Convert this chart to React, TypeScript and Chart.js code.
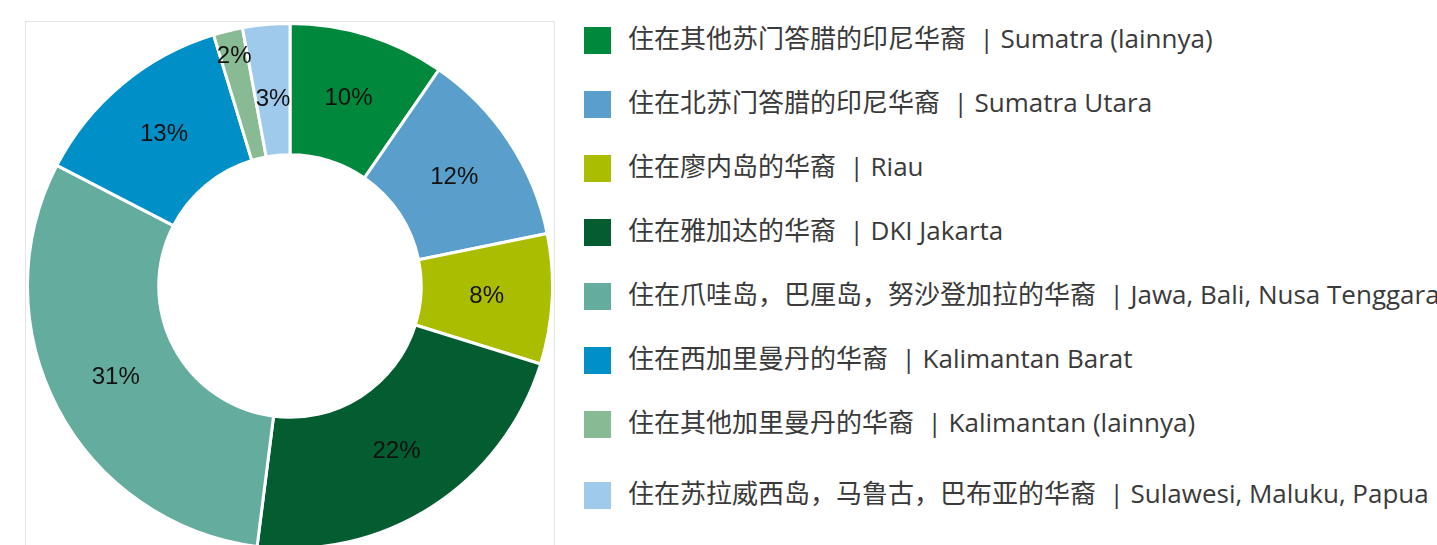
import React, { useEffect, useRef } from "react";
import { Chart, registerables } from "chart.js";

Chart.register(...registerables);

const categories: string[] = [
  "住在其他苏门答腊的印尼华裔  | Sumatra (lainnya)",
  "住在北苏门答腊的印尼华裔  | Sumatra Utara",
  "住在廖内岛的华裔  | Riau",
  "住在雅加达的华裔  | DKI Jakarta",
  "住在爪哇岛，巴厘岛，努沙登加拉的华裔  | Jawa, Bali, Nusa Tenggara",
  "住在西加里曼丹的华裔  | Kalimantan Barat",
  "住在其他加里曼丹的华裔  | Kalimantan (lainnya)",
  "住在苏拉威西岛，马鲁古，巴布亚的华裔  | Sulawesi, Maluku, Papua",
];

const values: number[] = [9.6, 12.2, 8.0, 22.2, 30.6, 12.7, 1.8, 2.9];

const colors: string[] = [
  "#00893D",
  "#5A9FCB",
  "#AABD00",
  "#045D31",
  "#64AC9E",
  "#0090C7",
  "#88BA94",
  "#9FCAEC",
];

const labelRadiusFactor: number[] = [1, 1, 1, 1, 1, 1, 1.2, 0.95];

const arcLabelPlugin = {
  id: "arcLabels",
  afterDatasetsDraw(chart: any) {
    const { ctx } = chart;
    const meta = chart.getDatasetMeta(0);
    ctx.save();
    ctx.font = "24px 'Liberation Sans', Arial, sans-serif";
    ctx.fillStyle = "#111111";
    ctx.textAlign = "center";
    ctx.textBaseline = "middle";
    meta.data.forEach((arc: any, i: number) => {
      const p = arc.getProps(["x", "y", "startAngle", "endAngle", "innerRadius", "outerRadius"], true);
      const mid = (p.startAngle + p.endAngle) / 2;
      const r = ((p.innerRadius + p.outerRadius) / 2) * labelRadiusFactor[i];
      const x = p.x + Math.cos(mid) * r;
      const y = p.y + Math.sin(mid) * r;
      ctx.fillText(Math.round(values[i]) + "%", x, y);
    });
    ctx.restore();
  },
};

export default function App() {
  const canvasRef = useRef<HTMLCanvasElement | null>(null);

  useEffect(() => {
    if (!canvasRef.current) return;
    const chart = new Chart(canvasRef.current, {
      type: "doughnut",
      data: {
        labels: categories,
        datasets: [
          {
            data: values,
            backgroundColor: colors,
            borderColor: "#ffffff",
            borderWidth: 3,
          },
        ],
      },
      options: {
        animation: false,
        responsive: false,
        maintainAspectRatio: false,
        cutout: "50%",
        layout: { padding: 0 },
        plugins: {
          legend: { display: false },
          tooltip: { enabled: false },
        },
      },
      plugins: [arcLabelPlugin],
    });
    return () => chart.destroy();
  }, []);

  return (
    <div
      style={{
        position: "absolute",
        left: 0,
        top: 0,
        width: 1437,
        height: 545,
        overflow: "hidden",
        background: "#ffffff",
      }}
    >
      <div
        style={{
          position: "absolute",
          left: 25,
          top: 21,
          width: 528,
          height: 560,
          border: "1px solid #e4e4e4",
        }}
      />
      <canvas
        ref={canvasRef}
        width={528}
        height={528}
        style={{ position: "absolute", left: 26, top: 22, width: 528, height: 528 }}
      />
      {categories.map((c, i) => {
        const top = i < 7 ? 27 + i * 64 : 27 + 6 * 64 + 71;
        return (
          <div
            key={i}
            style={{
              position: "absolute",
              left: 584,
              top: top,
              height: 27,
              display: "flex",
              alignItems: "center",
              whiteSpace: "pre",
            }}
          >
            <div style={{ width: 27, height: 27, background: colors[i], flex: "none" }} />
            <span
              style={{
                marginLeft: 17,
                fontFamily: "'Open Sans', 'Noto Sans CJK SC', sans-serif",
                fontSize: 26,
                color: "#3a3a3a",
                lineHeight: "27px",
                marginTop: -4,
              }}
            >
              {c}
            </span>
          </div>
        );
      })}
    </div>
  );
}
